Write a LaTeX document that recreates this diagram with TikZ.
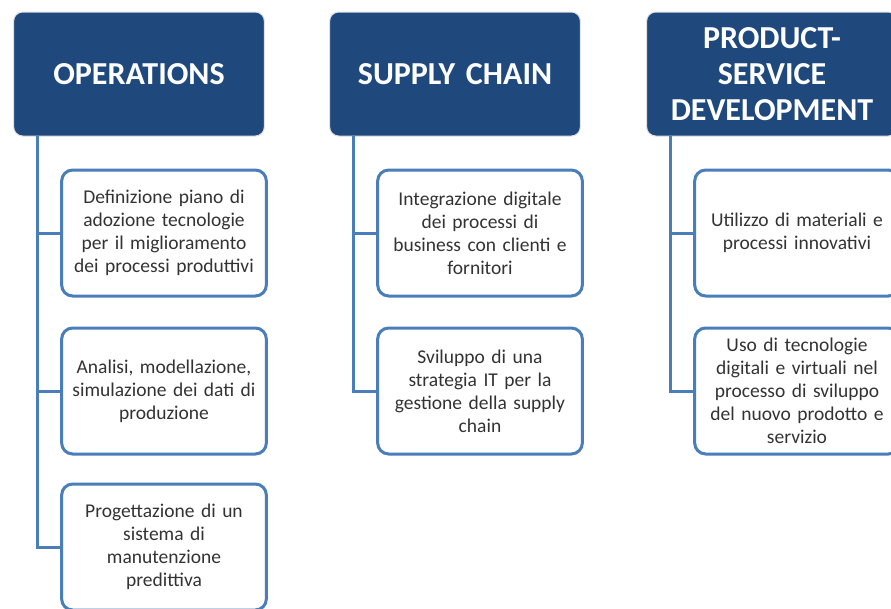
\documentclass[tikz,border=0pt]{standalone}
\usepackage{fontspec}
\setmainfont{Carlito}
\definecolor{headblue}{HTML}{1F497D}
\definecolor{lineblue}{HTML}{4A7EBB}
\definecolor{txtgray}{HTML}{333333}
\begin{document}
\begin{tikzpicture}[x=1pt,y=-1pt,
    head_node/.style={rectangle,rounded corners=9pt,fill=headblue,draw=black!12,line width=1pt,
        minimum width=250pt,minimum height=124pt,text width=244pt,align=center,
        text=white,font=\fontsize{32}{36}\selectfont\bfseries},
    item_node/.style={rectangle,rounded corners=11pt,fill=white,draw=lineblue,line width=3pt,
        minimum width=204pt,minimum height=126pt,text width=198pt,align=center,
        text=txtgray,font=\fontsize{19.5}{23}\selectfont},
    link/.style={draw=lineblue,line width=3pt}]
    \useasboundingbox (0,0) rectangle (891,608);
    \clip (0,0) rectangle (891,608);
    % headers
    \node[head_node] (op) at (139, 74) {OPERATIONS};
    \node[head_node] (sc) at (455, 74) {SUPPLY CHAIN};
    \node[head_node] (pd) at (772, 74) {PRODUCT-\\SERVICE\\DEVELOPMENT};
    % operations
    \node[item_node] (op1) at (164, 233) {Definizione piano di\\adozione tecnologie\\per il miglioramento\\dei processi produttivi};
    \node[item_node] (op2) at (164, 391) {Analisi, modellazione,\\simulazione dei dati di\\produzione};
    \node[item_node] (op3) at (164, 547) {Progettazione di un\\sistema di\\manutenzione\\predittiva};
    % supply chain
    \node[item_node] (sc1) at (480, 233) {Integrazione digitale\\dei processi di\\business con clienti e\\fornitori};
    \node[item_node] (sc2) at (480, 391) {Sviluppo di una\\strategia IT per la\\gestione della supply\\chain};
    % product-service development
    \node[item_node] (pd1) at (797, 233) {Utilizzo di materiali e\\processi innovativi};
    \node[item_node] (pd2) at (797, 391) {Uso di tecnologie\\digitali e virtuali nel\\processo di sviluppo\\del nuovo prodotto e\\servizio};
    \coordinate (opl) at (37, 136);
    \coordinate (scl) at (353, 136);
    \coordinate (pdl) at (670, 136);
    \draw[link] (opl) |- (op1.west) (opl) |- (op2.west) (opl) |- (op3.west);
    \draw[link] (scl) |- (sc1.west) (scl) |- (sc2.west);
    \draw[link] (pdl) |- (pd1.west) (pdl) |- (pd2.west);
\end{tikzpicture}
\end{document}
